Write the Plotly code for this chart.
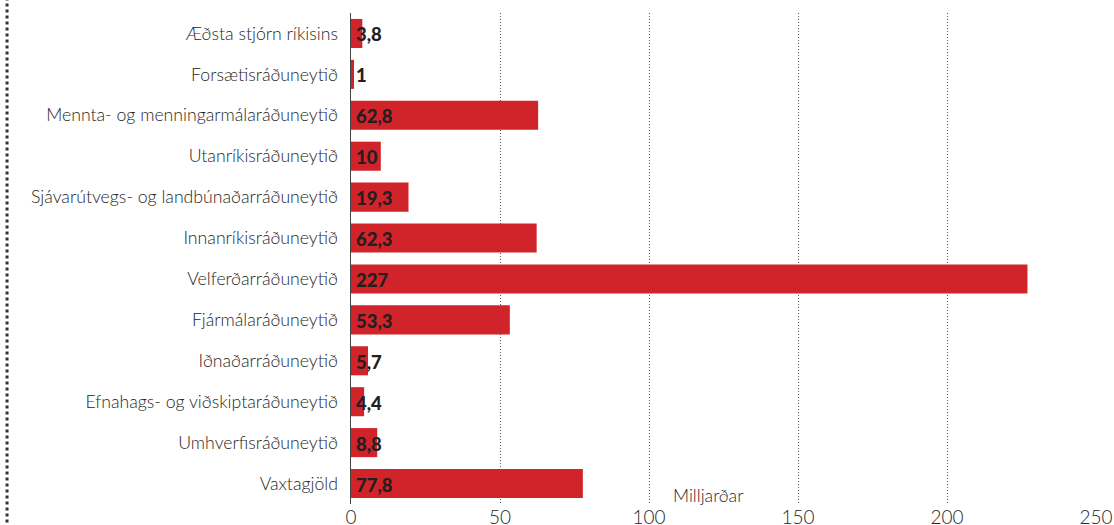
import plotly.graph_objects as go

categories = [
    "Æðsta stjórn ríkisins",
    "Forsætisráðuneytið",
    "Mennta- og menningarmálaráðuneytið",
    "Utanríkisráðuneytið",
    "Sjávarútvegs- og landbúnaðarráðuneytið",
    "Innanríkisráðuneytið",
    "Velferðarráðuneytið",
    "Fjármálaráðuneytið",
    "Iðnaðarráðuneytið",
    "Efnahags- og viðskiptaráðuneytið",
    "Umhverfisráðuneytið",
    "Vaxtagjöld",
]
values = [3.8, 1, 62.8, 10, 19.3, 62.3, 227, 53.3, 5.7, 4.4, 8.8, 77.8]
tick_vals = [0, 50, 100, 150, 200, 250]
unit_label = "Milljarðar"

labels = [(f"{v:g}").replace(".", ",") for v in values]

FONT = "Lato"
TEXT = "#262626"

fig = go.Figure()
fig.add_trace(go.Bar(
    y=categories, x=values, orientation="h",
    marker=dict(color="#d1232a", line=dict(width=0)),
    hoverinfo="skip", showlegend=False,
))

annotations = [
    dict(text=lab, x=0, y=cat, xref="x", yref="y", xanchor="left",
         yanchor="middle", xshift=3, yshift=-1, showarrow=False,
         font=dict(family=FONT, size=18.5, color="#231f20", weight=900))
    for cat, lab in zip(categories, labels)
]
annotations.append(dict(
    text=unit_label, xref="x", yref="paper", x=107.5, y=0.018,
    xanchor="left", yanchor="middle", showarrow=False,
    font=dict(family=FONT, size=17.7, color=TEXT, weight=300),
))

fig.update_layout(
    width=1114, height=525,
    margin=dict(l=351, r=18, t=13, b=21, autoexpand=False),
    paper_bgcolor="white", plot_bgcolor="white",
    bargap=0.29,
    font=dict(family=FONT, color=TEXT),
    xaxis=dict(
        range=[0, 250], tickvals=tick_vals, showgrid=True,
        gridcolor="#555555", gridwidth=1, griddash="1px,2px",
        zeroline=False, showline=False, ticks="", automargin=False,
        tickfont=dict(family=FONT, size=19, color=TEXT, weight=300),
        fixedrange=True,
    ),
    yaxis=dict(
        autorange="reversed", showgrid=False, zeroline=False,
        showline=True, linecolor="#444444", linewidth=1.5,
        ticks="", ticklabelstandoff=8, automargin=False,
        tickfont=dict(family=FONT, size=17.7, color=TEXT, weight=300),
        fixedrange=True,
    ),
    shapes=[dict(
        type="line", xref="paper", yref="paper",
        x0=-0.4617, x1=-0.4617, y0=-0.05, y1=1.03,
        line=dict(color="#333333", width=3, dash="3px,3px"),
    )],
    annotations=annotations,
)

fig.write_html(
    "out.html",
    config={"displayModeBar": False, "staticPlot": True},
    post_script="document.body.style.margin='0';document.body.style.overflow='hidden';",
)
